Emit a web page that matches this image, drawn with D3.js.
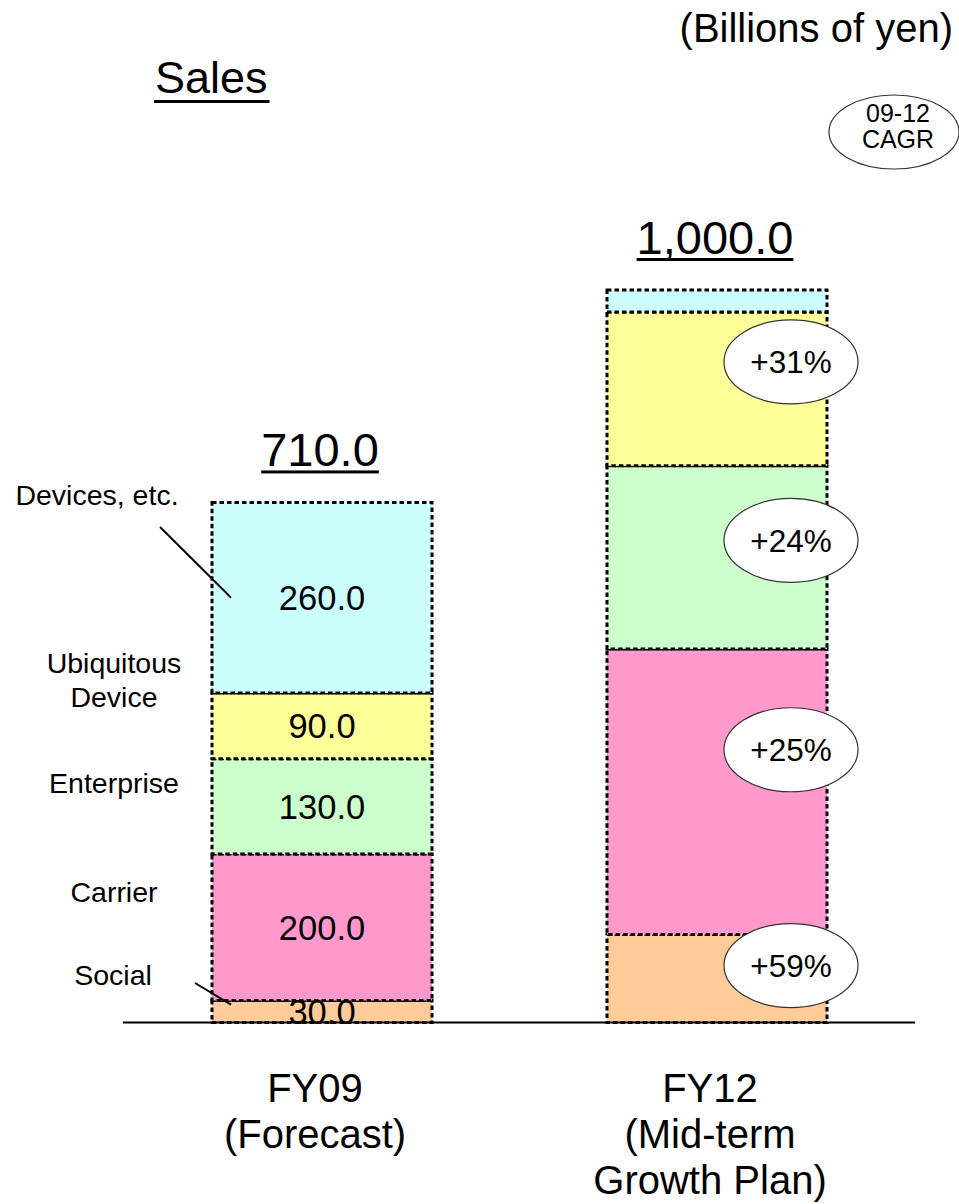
<!DOCTYPE html>
<html><head><meta charset="utf-8">
<script src="https://cdn.jsdelivr.net/npm/d3@7"></script>
<style>html,body{margin:0;padding:0;background:#fff;}svg{display:block;font-family:"Liberation Sans",Arial,sans-serif;}</style>
</head><body>
<script>
// ---- data ----
const segments = ["Social", "Carrier", "Enterprise", "Ubiquitous Device", "Devices, etc."];
const years = ["FY09", "FY12"];
const yearLabels = [["FY09", "(Forecast)"], ["FY12", "(Mid-term", "Growth Plan)"]];
const fy09 = [30, 200, 130, 90, 260];
const fy12 = [120, 390, 250, 210, 30];
const totals = ["710.0", "1,000.0"];
const cagr = ["+59%", "+25%", "+24%", "+31%"];
const colors = ["#FFCC99", "#FF99CC", "#CCFFCC", "#FFFF99", "#CCFFFF"];

// ---- layout ----
const W = 959, H = 1204;
const svg = d3.select("body").append("svg").attr("width", W).attr("height", H);
const y = d3.scaleLinear().domain([0, 1000]).range([1022.5, 290]);
const x = d3.scaleBand().domain(years).range([133, 906]).paddingInner(0.443).paddingOuter(0.2);

const series = [fy09, fy12];
series.forEach((vals, i) => {
  let cum = 0;
  const g = svg.append("g");
  vals.forEach((v, j) => {
    const y0 = cum, y1 = cum + v; cum = y1;
    g.append("rect")
      .attr("x", x(years[i])).attr("width", x.bandwidth())
      .attr("y", y(y1)).attr("height", y(y0) - y(y1))
      .attr("fill", colors[j]).attr("stroke", "#000")
      .attr("stroke-width", 3).attr("stroke-dasharray", "4.5,3");
  });
});

// axis line
svg.append("line").attr("x1", 123).attr("x2", 915).attr("y1", y(0)).attr("y2", y(0))
  .attr("stroke", "#000").attr("stroke-width", 2);

// value labels FY09
let cum = 0;
fy09.forEach((v, j) => {
  const mid = cum + v / 2; cum += v;
  svg.append("text").attr("x", x("FY09") + x.bandwidth() / 2).attr("y", y(mid))
    .attr("dy", "0.36em").attr("text-anchor", "middle").attr("font-size", 34.5)
    .text(v.toFixed(1));
});

// totals underlined
const sum = a => a.reduce((p, c) => p + c, 0);
series.forEach((vals, i) => {
  const cx = x(years[i]) + x.bandwidth() / 2 - 2;
  const by = y(sum(vals)) - 36;
  const t = svg.append("text").attr("x", cx).attr("y", by).attr("text-anchor", "middle")
    .attr("font-size", 47).text(totals[i]);
  const bb = t.node().getBBox();
  svg.append("rect").attr("x", bb.x).attr("width", bb.width).attr("y", by + 4).attr("height", 3).attr("fill", "#000");
});

// CAGR ellipses on FY12
const cagrOffset = [-13, -42, -17, -27];
let c2 = 0;
fy12.forEach((v, j) => {
  const mid = c2 + v / 2; c2 += v;
  if (j >= cagr.length) return;
  const cx = x("FY12") + x.bandwidth() - 36;
  const cy = y(mid) + cagrOffset[j];
  svg.append("ellipse").attr("cx", cx).attr("cy", cy).attr("rx", 67).attr("ry", 42)
    .attr("fill", "#fff").attr("stroke", "#333").attr("stroke-width", 1.2);
  svg.append("text").attr("x", cx).attr("y", cy).attr("dy", "0.36em").attr("text-anchor", "middle")
    .attr("font-size", 31.5).text(cagr[j]);
});

// x labels
yearLabels.forEach((lines, i) => {
  const cx = x(years[i]) + x.bandwidth() / 2 - 7;
  lines.forEach((l, k) => {
    svg.append("text").attr("x", cx).attr("y", 1102 + k * 46).attr("text-anchor", "middle")
      .attr("font-size", 40).text(l);
  });
});

// category labels (left)
const catLabels = [
  {lines: ["Social"], x: 113, y: 985},
  {lines: ["Carrier"], x: 114, y: 902},
  {lines: ["Enterprise"], x: 114, y: 793},
  {lines: ["Ubiquitous", "Device"], x: 114, y: 673},
  {lines: ["Devices, etc."], x: 97, y: 505}
];
catLabels.forEach(c => {
  c.lines.forEach((l, k) => {
    svg.append("text").attr("x", c.x).attr("y", c.y + k * 34).attr("text-anchor", "middle")
      .attr("font-size", 28.5).text(l);
  });
});

// leader lines
const bx = x("FY09") + 19;
svg.append("line").attr("x1", 160).attr("y1", 527).attr("x2", bx).attr("y2", y(fy09[0] + fy09[1] + fy09[2] + fy09[3] + fy09[4] / 2))
  .attr("stroke", "#000").attr("stroke-width", 2);
svg.append("line").attr("x1", 195).attr("y1", 983).attr("x2", bx).attr("y2", y(fy09[0]) + 4)
  .attr("stroke", "#000").attr("stroke-width", 2);

// title & unit
const st = svg.append("text").attr("x", 155).attr("y", 93).attr("font-size", 45).text("Sales");
const sb = st.node().getBBox();
svg.append("rect").attr("x", sb.x - 1).attr("width", sb.width + 3).attr("y", 100).attr("height", 3).attr("fill", "#000");
svg.append("text").attr("x", 953).attr("y", 42).attr("text-anchor", "end").attr("font-size", 40).text("(Billions of yen)");

// CAGR legend ellipse
svg.append("ellipse").attr("cx", 894).attr("cy", 132).attr("rx", 65).attr("ry", 37)
  .attr("fill", "#fff").attr("stroke", "#333").attr("stroke-width", 1.2);
svg.append("text").attr("x", 898).attr("y", 122).attr("text-anchor", "middle").attr("font-size", 25).text("09-12");
svg.append("text").attr("x", 898).attr("y", 148).attr("text-anchor", "middle").attr("font-size", 25).text("CAGR");
</script>
</body></html>
